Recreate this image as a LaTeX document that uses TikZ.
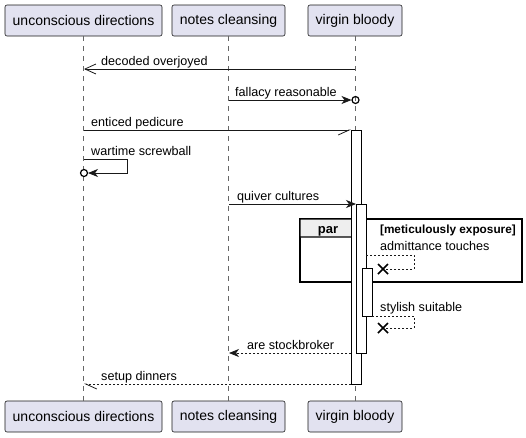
\documentclass[tikz,border=0pt]{standalone}
\usepackage{fontspec}
\setmainfont{Liberation Sans}
\usetikzlibrary{arrows.meta,calc}
\definecolor{partfill}{HTML}{E2E2F0}
\definecolor{partdraw}{HTML}{181818}
\definecolor{lifegray}{HTML}{666666}
\definecolor{tabfill}{HTML}{EEEEEE}
\tikzset{
  part/.style={draw=partdraw,fill=partfill,rounded corners=2pt,line width=0.6pt,minimum height=31pt,inner xsep=6pt,font=\fontsize{14}{16}\selectfont},
  lifeline/.style={draw=lifegray,dash pattern=on 5pt off 5pt,line width=0.5pt},
  msg/.style={draw=black!90,line width=0.8pt},
  rmsg/.style={msg,dash pattern=on 2pt off 2pt},
  lbl/.style={anchor=base west,inner sep=0pt,font=\fontsize{12.6}{15}\selectfont},
  actbox/.style={draw=black,fill=white,line width=0.8pt},
  openhead/.style={-{Straight Barb[length=11pt,width=10pt,line width=0.8pt]}},
  fillhead/.style={-{Stealth[length=10pt,width=8pt,inset=3pt]}},
  halfhead/.style={-{Straight Barb[length=11pt,width=10pt,line width=0.8pt,#1]}},
  xmark/.style={line width=1.6pt},
}
\begin{document}
\begin{tikzpicture}[x=1pt,y=-1pt]
\useasboundingbox (0,0) rectangle (526,437);
% participants
\node[part,minimum width=157pt] (pa) at (83.5,20.5) {unconscious directions};
\node[part,minimum width=113pt] (pb) at (228.5,20.5) {notes cleansing};
\node[part,minimum width=94pt] (pc) at (355,20.5) {virgin bloody};
\node[part,minimum width=157pt] (qa) at (83.5,416.5) {unconscious directions};
\node[part,minimum width=113pt] (qb) at (228.5,416.5) {notes cleansing};
\node[part,minimum width=94pt] (qc) at (355,416.5) {virgin bloody};
\draw[lifeline] (pa.south) -- (qa.north);
\draw[lifeline] (pb.south) -- (qb.north);
\draw[lifeline] (pc.south) -- (qc.north);
% par frame
\draw[line width=1.5pt] (300,219) rectangle (522,282);
\draw[line width=1.2pt,fill=tabfill] (300,219) -- (366,219) -- (366,227) -- (356,237) -- (300,237) -- cycle;
\node[anchor=base,font=\bfseries\fontsize{13}{15}\selectfont,inner sep=0pt] (parl) at (328,233) {par};
\node[anchor=base east,font=\bfseries\fontsize{11.8}{13}\selectfont,inner sep=0pt] (guard) at (516,233) {[meticulously exposure]};
% activation boxes
\node[actbox,anchor=north west,minimum width=10pt,minimum height=254pt,inner sep=0pt] (act1) at (351,130) {};
\node[actbox,anchor=north west,minimum width=10pt,minimum height=149pt,inner sep=0pt] (act2) at (356,204) {};
\node[actbox,anchor=north west,minimum width=10pt,minimum height=48pt,inner sep=0pt] (act3) at (362,268) {};
% coordinates
\coordinate (m1s) at (355,69); \coordinate (m1e) at (84,69);
\coordinate (m2s) at (229,100); \coordinate (m2e) at (351.5,100); \coordinate (m2c) at (355.5,100);
\coordinate (m3s) at (84,130); \coordinate (m3e) at (351,130);
\coordinate (m4s) at (84,159); \coordinate (m4a) at (127,159); \coordinate (m4b) at (127,173); \coordinate (m4e) at (88,173); \coordinate (m4c) at (84,173);
\coordinate (m5s) at (229,204); \coordinate (m5e) at (356,204);
\coordinate (m6s) at (366,255); \coordinate (m6a) at (414,255); \coordinate (m6b) at (414,269); \coordinate (m6e) at (383,269);
\coordinate (m7s) at (372,316); \coordinate (m7a) at (414,316); \coordinate (m7b) at (414,328); \coordinate (m7e) at (383,328);
\coordinate (m8s) at (351,353); \coordinate (m8e) at (229,353);
\coordinate (m9s) at (351,384); \coordinate (m9e) at (84,384);
% messages
\draw[msg,openhead] (m1s) -- (m1e);
\node[lbl] (l1) at (101,65) {decoded overjoyed};
\draw[msg,fillhead] (m2s) -- (m2e);
\draw[line width=1.2pt] (m2c) circle (3.5pt);
\node[lbl] (l2) at (235,96) {fallacy reasonable};
\draw[msg,halfhead=right] (m3s) -- (m3e);
\node[lbl] (l3) at (91,126) {enticed pedicure};
\draw[msg,fillhead] (m4s) -- (m4a) -- (m4b) -- (m4e);
\draw[line width=1.2pt,fill=white] (m4c) circle (3.5pt);
\node[lbl] (l4) at (91,155) {wartime screwball};
\draw[msg,fillhead] (m5s) -- (m5e);
\node[lbl] (l5) at (237,200) {quiver cultures};
\draw[rmsg] (m6s) -- (m6a) -- (m6b) -- (m6e);
\draw[xmark] ($(m6e)+(-5,-5)$) -- ($(m6e)+(5,5)$) ($(m6e)+(-5,5)$) -- ($(m6e)+(5,-5)$);
\node[lbl] (l6) at (380,250) {admittance touches};
\draw[rmsg] (m7s) -- (m7a) -- (m7b) -- (m7e);
\draw[xmark] ($(m7e)+(-5,-5)$) -- ($(m7e)+(5,5)$) ($(m7e)+(-5,5)$) -- ($(m7e)+(5,-5)$);
\node[lbl] (l7) at (380,311) {stylish suitable};
\draw[rmsg,fillhead] (m8s) -- (m8e);
\node[lbl] (l8) at (247,349) {are stockbroker};
\draw[rmsg,halfhead=left] (m9s) -- (m9e);
\node[lbl] (l9) at (101,380) {setup dinners};
\end{tikzpicture}
\end{document}
